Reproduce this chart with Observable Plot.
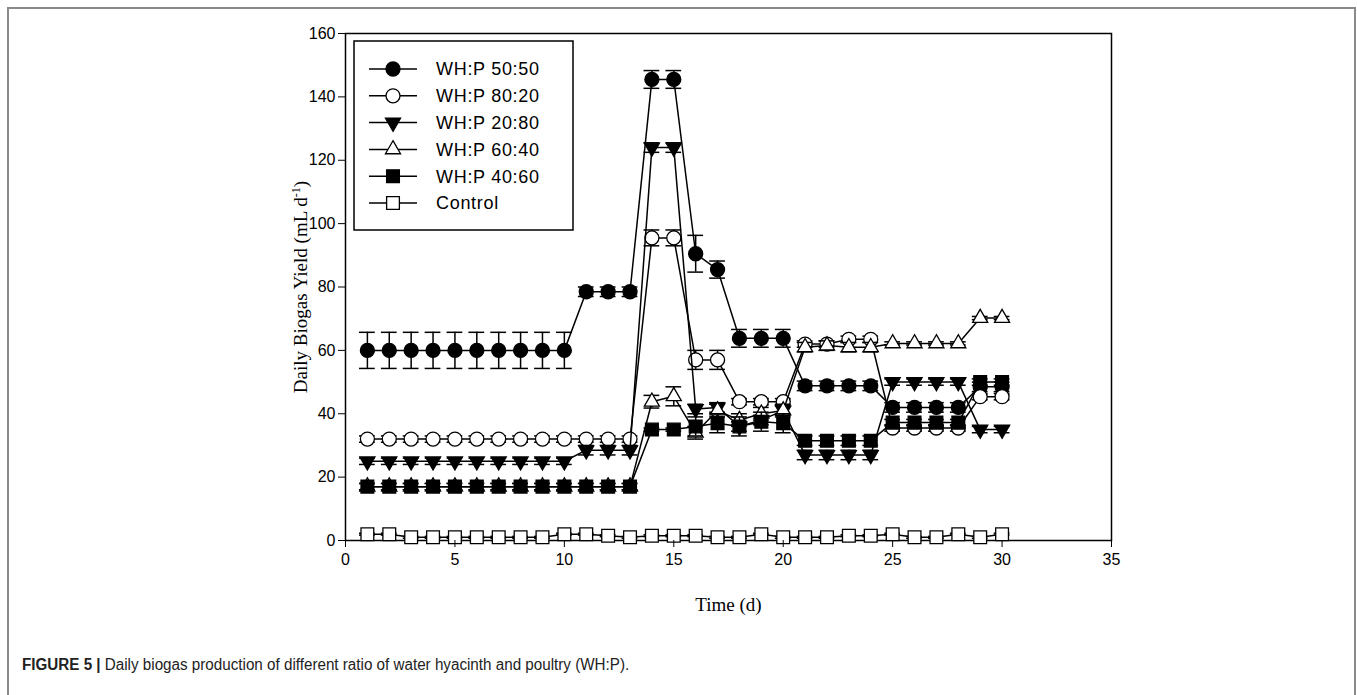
<!DOCTYPE html>
<html>
<head>
<meta charset="utf-8">
<script src="https://cdn.jsdelivr.net/npm/d3@7"></script>
<script src="https://cdn.jsdelivr.net/npm/@observablehq/plot@0.6"></script>
<style>
  html, body { margin: 0; padding: 0; background: #fff; }
  #wrap { position: relative; width: 1357px; height: 695px; overflow: hidden; }
  #border { position: absolute; left: 7px; top: 7px; width: 1349px; height: 720px; border-left: 2px solid #8a8a8a; border-top: 2px solid #8a8a8a; border-right: 2px solid #8a8a8a; box-sizing: border-box; }
  #chart { position: absolute; left: 0; top: 0; }
  #legend { position: absolute; left: 0; top: 0; pointer-events: none; }
  #caption { position: absolute; left: 22px; top: 656px; font-family: "Liberation Sans", Arial, sans-serif; font-size: 16px; color: #222; white-space: nowrap; transform: scaleX(0.95); transform-origin: 0 0; }
  #caption b { font-weight: bold; }
</style>
</head>
<body>
<div id="wrap">
  <div id="border"></div>
  <div id="chart"></div>
  <svg id="legend" width="1357" height="695"></svg>
  <div id="caption"><b>FIGURE 5 |</b> Daily biogas production of different ratio of water hyacinth and poultry (WH:P).</div>
</div>
<script>
// ---- data ----
const days = [1,2,3,4,5,6,7,8,9,10,11,12,13,14,15,16,17,18,19,20,21,22,23,24,25,26,27,28,29,30];
const seriesNames = ["WH:P 50:50", "WH:P 80:20", "WH:P 20:80", "WH:P 60:40", "WH:P 40:60", "Control"];
const ratio5050 = [60,60,60,60,60,60,60,60,60,60,78.5,78.5,78.5,145.5,145.5,90.5,85.5,63.8,63.8,63.8,48.8,48.8,48.8,48.8,42,42,42,42,48.5,48.5];
const err5050   = [5.7,5.7,5.7,5.7,5.7,5.7,5.7,5.7,5.7,5.7,1.5,1.5,1.5,2.8,2.8,5.8,2.7,2.8,2.8,2.8,1.5,1.5,1.5,1.5,1.5,1.5,1.5,1.5,1.5,1.5];
const ratio8020 = [32,32,32,32,32,32,32,32,32,32,32,32,32,95.5,95.5,57,57,43.8,43.8,43.8,62,62,63.5,63.5,35.5,35.5,35.5,35.5,45.4,45.4];
const err8020   = [1,1,1,1,1,1,1,1,1,1,1,1,1,2.5,2.5,3,3,1,1,1,1,1,1,1,1,1,1,1,1,1];
const ratio2080 = [25,25,25,25,25,25,25,25,25,25,28.5,28.5,28.5,124,124,41.5,42,36,38,41,27,27,27,27,50,50,50,50,35,35];
const err2080   = [1,1,1,1,1,1,1,1,1,1,1.5,1.5,1.5,1.5,1.5,1.5,1.5,1.5,1.5,1.5,1.5,1.5,1.5,1.5,1,1,1,1,1,1];
const ratio6040 = [17,17,17,17,17,17,17,17,17,17,17,17,17,43.8,45.5,34,41,38,40,41,61,61.5,61,61,62.2,62.2,62.2,62.2,70.2,70.2];
const err6040   = [1,1,1,1,1,1,1,1,1,1,1,1,1,2,3,2,2,2,2,2,1.5,1.5,1.5,1.5,0.5,0.5,0.5,0.5,0.5,0.5];
const ratio4060 = [17,17,17,17,17,17,17,17,17,17,17,17,17,35,35,36,37,36,37.5,37,31.5,31.5,31.5,31.5,37.2,37.2,37.2,37.2,50,50];
const err4060   = [1,1,1,1,1,1,1,1,1,1,1,1,1,0.5,0.5,3,3,3,3,3,1.5,1.5,1.5,1.5,1,1,1,1,1,1];
const control   = [2,2,1,1,1,1,1,1,1,2,2,1.5,1,1.5,1.5,1.5,1,1,2,1,1,1,1.5,1.5,2,1,1,2,1,2];
const errControl= [0.3,0.3,0.3,0.3,0.3,0.3,0.3,0.3,0.3,0.3,0.3,0.3,0.3,0.3,0.3,0.3,0.3,0.3,0.3,0.3,0.3,0.3,0.3,0.3,0.3,0.3,0.3,0.3,0.3,0.3];
const xTicks = [0,5,10,15,20,25,30,35];
const yTicks = [0,20,40,60,80,100,120,140,160];

// ---- symbols ----
const sqrt3 = Math.sqrt(3);
const triangleDown = {
  draw(ctx, size) {
    const y = -Math.sqrt(size / (sqrt3 * 3));
    ctx.moveTo(0, -y * 2);
    ctx.lineTo(-sqrt3 * y, y);
    ctx.lineTo(sqrt3 * y, y);
    ctx.closePath();
  }
};
const styles = [
  {symbol: "circle",  fill: "black", r: 7},
  {symbol: "circle",  fill: "white", r: 7},
  {symbol: triangleDown, fill: "black", r: 5.6},
  {symbol: "triangle", fill: "white", r: 5.6},
  {symbol: "square",  fill: "black", r: 7.2},
  {symbol: "square",  fill: "white", r: 7.2}
];
const values = [ratio5050, ratio8020, ratio2080, ratio6040, ratio4060, control];
const errors = [err5050, err8020, err2080, err6040, err4060, errControl];

const tables = values.map((vals, s) => days.map((d, i) => ({day: d, v: vals[i], e: errors[s][i], series: seriesNames[s]})));

const capHalf = 0.36;
const marks = [Plot.frame({stroke: "black", strokeWidth: 1.5})];
tables.forEach((tab, s) => {
  const st = styles[s];
  marks.push(
    Plot.ruleX(tab, {x: "day", y1: d => d.v - d.e, y2: d => d.v + d.e, stroke: "black", strokeWidth: 1.5}),
    Plot.ruleY(tab, {y: d => d.v - d.e, x1: d => d.day - capHalf, x2: d => d.day + capHalf, stroke: "black", strokeWidth: 1.5}),
    Plot.ruleY(tab, {y: d => d.v + d.e, x1: d => d.day - capHalf, x2: d => d.day + capHalf, stroke: "black", strokeWidth: 1.5}),
    Plot.line(tab, {x: "day", y: "v", stroke: "black", strokeWidth: 1.5}),
    Plot.dot(tab, {x: "day", y: "v", symbol: st.symbol, fill: st.fill, stroke: "black", strokeWidth: 1.3, r: st.r})
  );
});
marks.push(
  Plot.axisX({ticks: xTicks, tickSize: 7, tickPadding: 6, tickFormat: d => String(d), label: "Time (d)", labelAnchor: "center", labelArrow: "none", labelOffset: 70}),
  Plot.axisY({ticks: yTicks, tickSize: 7, tickPadding: 3, tickFormat: d => String(d), label: "Daily Biogas Yield (mL d-1)", labelAnchor: "center", labelArrow: "none", labelOffset: 52})
);

const chart = Plot.plot({
  width: 1357,
  height: 695,
  marginLeft: 345,
  marginRight: 246,
  marginTop: 33,
  marginBottom: 155,
  x: {domain: [0, 35]},
  y: {domain: [0, 160]},
  style: {fontFamily: "'Liberation Sans', Arial, sans-serif", fontSize: "16px", background: "transparent", color: "black"},
  marks
});
document.getElementById("chart").appendChild(chart);

// style axis labels (serif) with superscript
const svg = d3.select(chart);
svg.selectAll('[aria-label="x-axis label"] text').style("font-family", "'Liberation Serif', 'Times New Roman', serif").style("font-size", "19px");
svg.selectAll('[aria-label="y-axis label"] text').each(function() {
  const t = d3.select(this);
  t.style("font-family", "'Liberation Serif', 'Times New Roman', serif").style("font-size", "19px");
  t.text(null);
  t.append("tspan").text("Daily Biogas Yield (mL d");
  t.append("tspan").attr("baseline-shift", "super").style("font-size", "12px").text("-1");
  t.append("tspan").text(")");
});

// ---- legend ----
const lg = d3.select("#legend");
lg.append("rect").attr("x", 354).attr("y", 41).attr("width", 219).attr("height", 189)
  .attr("fill", "white").attr("stroke", "black").attr("stroke-width", 1.5);
const rowY = d3.scaleLinear().domain([0, 5]).range([69, 203]);
seriesNames.forEach((name, i) => {
  const y = rowY(i), st = styles[i];
  lg.append("line").attr("x1", 369).attr("x2", 417).attr("y1", y).attr("y2", y).attr("stroke", "black").attr("stroke-width", 1.5);
  const type = typeof st.symbol === "string" ? ({circle: d3.symbolCircle, triangle: d3.symbolTriangle, square: d3.symbolSquare})[st.symbol] : st.symbol;
  lg.append("path").attr("transform", `translate(393,${y})`)
    .attr("d", d3.symbol(type, Math.PI * st.r * st.r)())
    .attr("fill", st.fill).attr("stroke", "black").attr("stroke-width", 1.3);
  lg.append("text").attr("x", 436).attr("y", y).attr("dy", "0.35em")
    .style("font-family", "'Liberation Sans', Arial, sans-serif").style("font-size", "18px").style("letter-spacing", "0.7px").text(name);
});
</script>
</body>
</html>
